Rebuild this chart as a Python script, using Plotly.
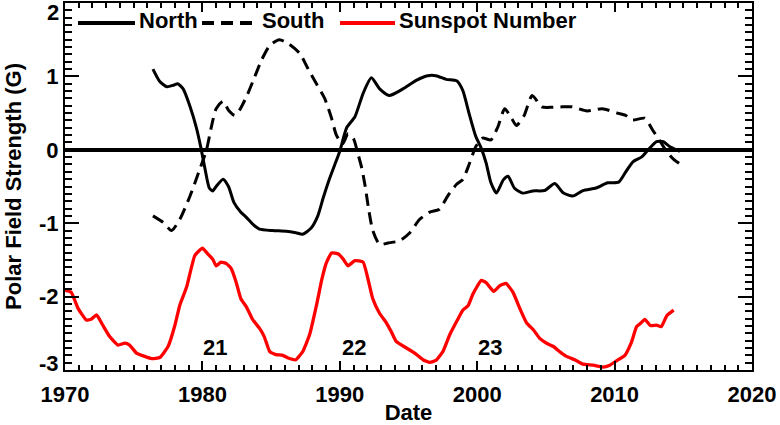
import plotly.graph_objects as go

# ---------------- data ----------------
north_years = [1976.4, 1976.9, 1977.4, 1977.9, 1978.2, 1978.6, 1979.1, 1979.55, 1979.9, 1980.2,
               1980.5, 1980.75, 1981.0, 1981.5, 1981.9, 1982.3, 1982.8, 1983.2, 1983.7, 1984.15,
               1985.1, 1986.1, 1986.8, 1987.3, 1987.9, 1988.4, 1988.8, 1989.2, 1989.6, 1990.0,
               1990.5, 1991.1, 1991.7, 1992.3, 1992.9, 1993.6, 1994.6, 1995.6, 1996.4, 1997.0,
               1997.75, 1998.5, 1998.95, 1999.4, 1999.9, 2000.3, 2000.65, 2001.0, 2001.4, 2001.9,
               2002.25, 2002.7, 2003.3, 2004.05, 2004.9, 2005.65, 2006.25, 2006.95, 2007.7, 2008.65,
               2009.5, 2010.3, 2010.85, 2011.35, 2011.95, 2012.45, 2013.05, 2013.55, 2014.0, 2014.5,
               2014.75]
north_field = [1.10, 0.93, 0.86, 0.88, 0.90, 0.83, 0.59, 0.31, 0.02, -0.27,
               -0.52, -0.56, -0.50, -0.40, -0.50, -0.72, -0.85, -0.92, -1.02, -1.08,
               -1.10, -1.11, -1.13, -1.15, -1.07, -0.90, -0.65, -0.42, -0.22, -0.02,
               0.30, 0.45, 0.77, 0.98, 0.83, 0.74, 0.83, 0.95, 1.01, 1.01,
               0.96, 0.94, 0.81, 0.50, 0.18, 0.02, -0.18, -0.45, -0.59, -0.41,
               -0.36, -0.52, -0.59, -0.56, -0.555, -0.46, -0.585, -0.63, -0.555, -0.52,
               -0.45, -0.44, -0.29, -0.16, -0.10, 0.0, 0.11, 0.11, 0.045, 0.0,
               -0.02]

south_years = [1976.4, 1977.15, 1977.75, 1978.35, 1979.1, 1979.8, 1980.3, 1980.65, 1981.0, 1981.5,
               1981.9, 1982.35, 1982.7, 1983.2, 1983.8, 1984.3, 1984.9, 1985.6, 1986.3, 1987.1,
               1987.7, 1988.3, 1988.9, 1989.4, 1989.75, 1990.2, 1990.6, 1991.0, 1991.3, 1991.6,
               1991.85, 1992.1, 1992.4, 1992.9, 1993.5, 1994.35, 1995.1, 1995.8, 1996.55, 1997.25,
               1997.85, 1998.5, 1998.95, 1999.45, 1999.9, 2000.4, 2001.0, 2001.5, 2002.0, 2002.5,
               2002.85, 2003.4, 2004.0, 2004.7, 2005.5, 2006.2, 2006.9, 2008.0, 2009.1, 2010.2,
               2010.8, 2011.3, 2012.2, 2012.8, 2013.3, 2013.85, 2014.3, 2014.75]
south_field = [-0.90, -0.99, -1.10, -0.95, -0.63, -0.27, 0.0, 0.31, 0.56, 0.66,
               0.54, 0.47, 0.54, 0.72, 0.99, 1.22, 1.42, 1.50, 1.44, 1.31,
               1.10, 0.90, 0.70, 0.43, 0.20, 0.08, 0.22, 0.15, -0.04, -0.25,
               -0.50, -0.81, -1.10, -1.29, -1.27, -1.24, -1.13, -0.95, -0.85, -0.81,
               -0.63, -0.47, -0.405, -0.18, 0.045, 0.16, 0.135, 0.31, 0.56, 0.43,
               0.33, 0.46, 0.74, 0.585, 0.58, 0.585, 0.585, 0.53, 0.56, 0.50,
               0.47, 0.405, 0.43, 0.26, 0.12, -0.04, -0.13, -0.19]

sunspot_years = [1970.0, 1970.45, 1970.95, 1971.55, 1971.9, 1972.3, 1972.75, 1973.25, 1973.85, 1974.35,
                 1974.7, 1975.2, 1975.8, 1976.3, 1976.9, 1977.5, 1978.0, 1978.35, 1978.85, 1979.45,
                 1980.0, 1980.4, 1980.75, 1981.0, 1981.35, 1981.75, 1982.1, 1982.45, 1982.8, 1983.2,
                 1983.65, 1984.15, 1984.5, 1984.9, 1985.35, 1985.85, 1986.3, 1986.8, 1987.3, 1987.8,
                 1988.3, 1988.7, 1989.0, 1989.4, 1989.9, 1990.25, 1990.6, 1991.1, 1991.7, 1992.05,
                 1992.4, 1992.9, 1993.4, 1993.75, 1994.1, 1994.85, 1995.45, 1996.05, 1996.55, 1997.0,
                 1997.5, 1998.0, 1998.5, 1998.95, 1999.35, 1999.7, 2000.3, 2000.65, 2001.2, 2001.65,
                 2002.1, 2002.6, 2003.1, 2003.6, 2004.1, 2004.55, 2005.05, 2005.55, 2006.0, 2006.5,
                 2007.1, 2007.7, 2008.45, 2009.15, 2009.65, 2010.1, 2010.75, 2011.2, 2011.6, 2011.85,
                 2012.2, 2012.6, 2013.05, 2013.4, 2013.8, 2014.3]
sunspot_scaled = [-1.915, -1.94, -2.16, -2.32, -2.31, -2.25, -2.39, -2.545, -2.66, -2.635,
                  -2.66, -2.77, -2.815, -2.845, -2.83, -2.68, -2.39, -2.12, -1.87, -1.44,
                  -1.34, -1.42, -1.49, -1.58, -1.53, -1.55, -1.62, -1.80, -2.03, -2.14,
                  -2.31, -2.43, -2.545, -2.75, -2.79, -2.80, -2.84, -2.86, -2.75, -2.52,
                  -2.12, -1.76, -1.55, -1.405, -1.42, -1.49, -1.58, -1.51, -1.53, -1.76,
                  -2.03, -2.23, -2.36, -2.48, -2.61, -2.70, -2.77, -2.86, -2.895, -2.87,
                  -2.75, -2.52, -2.34, -2.185, -2.12, -1.96, -1.78, -1.81, -1.93, -1.85,
                  -1.82, -1.94, -2.16, -2.36, -2.455, -2.57, -2.635, -2.68, -2.75, -2.815,
                  -2.86, -2.92, -2.935, -2.96, -2.935, -2.88, -2.80, -2.635, -2.41, -2.37,
                  -2.31, -2.395, -2.39, -2.41, -2.26, -2.185]

cycle_labels = ["21", "22", "23"]
cycle_years = [1980.9, 1991.05, 2000.95]
cycle_level = [-2.69, -2.69, -2.69]

x_ticks = [1970, 1980, 1990, 2000, 2010, 2020]
y_ticks = [-3, -2, -1, 0, 1, 2]
y_ticktext = ["", "-2", "-1", "0", "1", ""]

series_names = ["North", "South", "Sunspot Number"]

# ---------------- figure ----------------
FONT = "Liberation Sans, Arial, Helvetica, sans-serif"
F22 = dict(family=FONT, size=22, color="black", weight="bold")
fig = go.Figure()

fig.add_trace(go.Scatter(x=north_years, y=north_field, mode="lines", name=series_names[0],
                         line=dict(color="black", width=3, shape="spline", smoothing=0.6),
                         showlegend=False))
fig.add_trace(go.Scatter(x=south_years, y=south_field, mode="lines", name=series_names[1],
                         line=dict(color="black", width=3, dash="12px,7px", shape="spline", smoothing=0.6),
                         showlegend=False))
fig.add_trace(go.Scatter(x=sunspot_years, y=sunspot_scaled, mode="lines", name=series_names[2],
                         line=dict(color="#ff0000", width=3.3, shape="spline", smoothing=0.4),
                         showlegend=False))

# cycle numbers
for lab, xv, yv in zip(cycle_labels, cycle_years, cycle_level):
    fig.add_annotation(x=xv, y=yv, text=lab, showarrow=False, xref="x", yref="y", font=F22)

# extreme y tick labels (drawn slightly inside like the reference)
fig.add_annotation(x=0, y=2, xref="paper", yref="y", text="2", showarrow=False,
                   xanchor="right", yanchor="middle", xshift=-4, yshift=-9, font=F22)
fig.add_annotation(x=0, y=-3, xref="paper", yref="y", text="-3", showarrow=False,
                   xanchor="right", yanchor="middle", xshift=-4, yshift=7, font=F22)

# manual legend (paper coords)
L, R, T, B = 65, 752, 3, 370
def px2x(p):
    return (p - L) / (R - L)
def px2y(p):
    return (B - p) / (B - T)

leg_y = px2y(23)
legend_items = [
    (78, 135, 137, dict(color="black", width=4, dash="solid"), series_names[0]),
    (202, 253, 260, dict(color="black", width=4, dash="12px,7px"), series_names[1]),
    (340, 395, 397, dict(color="#ff0000", width=4, dash="solid"), series_names[2]),
]
for x0, x1, xt, ln, txt in legend_items:
    fig.add_shape(type="line", xref="paper", yref="paper", x0=px2x(x0), x1=px2x(x1),
                  y0=leg_y, y1=leg_y, line=ln)
    fig.add_annotation(x=px2x(xt), y=px2y(21), xref="paper", yref="paper", text=txt,
                       showarrow=False, xanchor="left", yanchor="middle", font=F22)

fig.update_layout(
    width=780, height=425,
    margin=dict(l=65, r=28, t=3, b=55, autoexpand=False),
    paper_bgcolor="white", plot_bgcolor="white",
    font=F22,
    showlegend=False,
)
fig.update_xaxes(
    range=[1970, 2020], tickvals=x_ticks, ticks="inside", ticklen=9, tickwidth=2,
    tickcolor="black", showline=True, linewidth=2, linecolor="black", mirror="ticks",
    showgrid=False, zeroline=False, automargin=False, ticklabelstandoff=4,
    tickfont=F22,
    minor=dict(dtick=1, ticks="inside", ticklen=5, tickwidth=1.5, tickcolor="black", showgrid=False),
    title=dict(text="Date", font=F22, standoff=8),
)
fig.update_yaxes(
    range=[-3, 2], tickvals=y_ticks, ticktext=y_ticktext, ticks="inside", ticklen=14, tickwidth=2,
    tickcolor="black", showline=True, linewidth=2, linecolor="black", mirror="ticks",
    showgrid=False, zeroline=True, zerolinecolor="black", zerolinewidth=4, automargin=False,
    tickfont=F22,
    minor=dict(dtick=0.1, ticks="inside", ticklen=7, tickwidth=1.5, tickcolor="black", showgrid=False),
    title=dict(text="Polar Field Strength (G)", font=F22, standoff=11),
)

fig.write_html(
    "out.html",
    config={"displayModeBar": False},
    post_script="document.body.style.margin='0';document.body.style.padding='0';",
)
